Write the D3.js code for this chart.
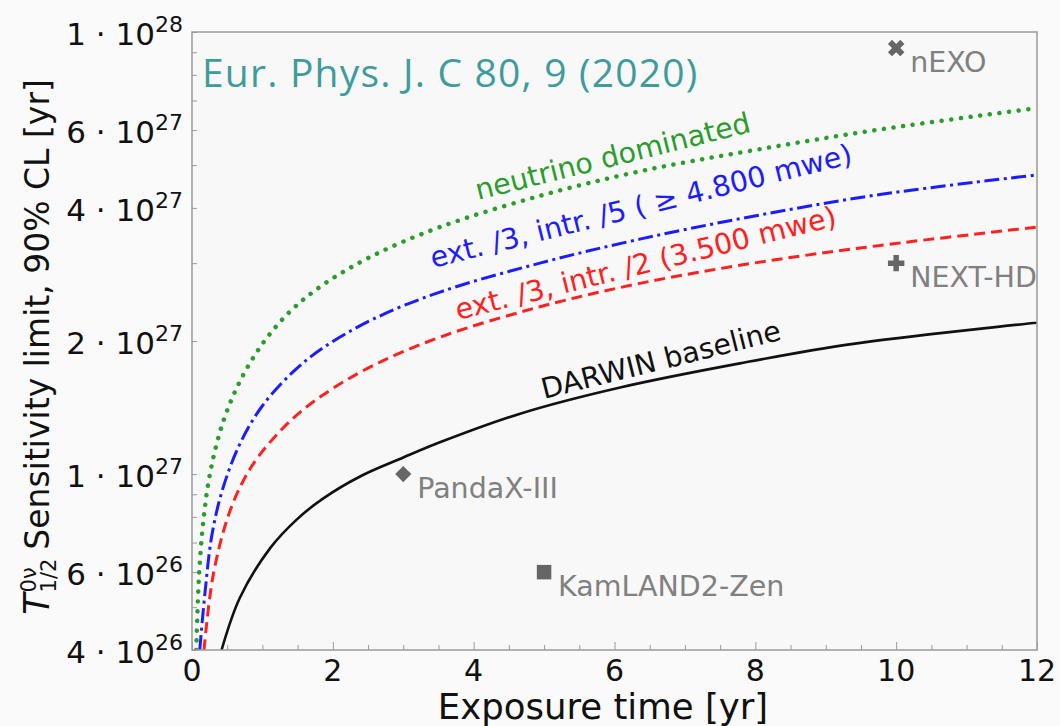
<!DOCTYPE html>
<html>
<head>
<meta charset="utf-8">
<script src="https://cdn.jsdelivr.net/npm/d3@7"></script>
<style>
  body { margin: 0; background: #fafafa; }
  svg { display: block; }
</style>
</head>
<body>
<svg id="chart" width="1060" height="726"></svg>
<script>
// Exposure time [yr] and 90% CL half-life sensitivity [yr] for each scenario
const baselineTime = [0.42, 0.68, 1.11, 1.49, 1.86, 2.4, 3.0, 3.52, 4.66, 6.08, 7.78, 9.39, 12];
const baselineSens = [4.0e26, 5.25e26, 6.8e26, 7.9e26, 8.8e26, 9.9e26, 1.09e27, 1.18e27, 1.37e27, 1.57e27, 1.78e27, 1.97e27, 2.20e27];

const red2Time = [0.17, 0.30, 0.51, 0.72, 0.97, 1.42, 1.86, 2.57, 3.52, 4.94, 6.36, 7.97, 9.77, 12];
const red2Sens = [4.0e26, 5.9e26, 8.0e26, 9.6e26, 1.11e27, 1.33e27, 1.51e27, 1.76e27, 2.04e27, 2.39e27, 2.70e27, 3.00e27, 3.29e27, 3.62e27];

const red5Time = [0.11, 0.185, 0.284, 0.44, 0.68, 0.99, 1.43, 1.86, 2.57, 3.52, 4.94, 6.36, 7.97, 9.77, 12];
const red5Sens = [4.0e26, 5.4e26, 7.3e26, 9.3e26, 1.17e27, 1.42e27, 1.70e27, 1.93e27, 2.24e27, 2.58e27, 3.00e27, 3.40e27, 3.83e27, 4.29e27, 4.75e27];

const nuTime = [0.06, 0.10, 0.16, 0.26, 0.44, 0.68, 1.0, 1.39, 1.86, 2.57, 3.52, 4.94, 6.36, 7.97, 9.77, 12];
const nuSens = [4.0e26, 5.9e26, 7.8e26, 1.01e27, 1.31e27, 1.62e27, 1.97e27, 2.33e27, 2.68e27, 3.12e27, 3.62e27, 4.26e27, 4.84e27, 5.40e27, 6.02e27, 6.73e27];

const curveNames = ["DARWIN baseline", "ext. /3, intr. /2 (3.500 mwe)", "ext. /3, intr. /5 ( \u2265 4.800 mwe)", "neutrino dominated"];

// Other experiments' projected sensitivities
const experiments = ["nEXO", "NEXT-HD", "PandaX-III", "KamLAND2-Zen"];
const expTime = [10, 10, 3, 5];
const expSens = [9.2e27, 3.0e27, 1.0e27, 6.0e26];
const expSymbol = ["x", "plus", "diamond", "square"];

// Axis ticks
const xTicks = [0, 2, 4, 6, 8, 10, 12];
const yTickMantissa = [4, 6, 1, 2, 4, 6, 1];
const yTickExponent = [26, 26, 27, 27, 27, 27, 28];

const W = 1060, H = 726;
const plot = { left: 192, right: 1037, top: 32, bottom: 650 };

const svg = d3.select("#chart");
svg.append("rect").attr("width", W).attr("height", H).attr("fill", "#fafafa");

const x = d3.scaleLinear().domain([0, 12]).range([plot.left, plot.right]);
const y = d3.scaleLog().domain([4e26, 1e28]).range([plot.bottom, plot.top]);

svg.append("rect")
  .attr("x", plot.left).attr("y", plot.top)
  .attr("width", plot.right - plot.left).attr("height", plot.bottom - plot.top)
  .attr("fill", "#f8f8f8");

svg.append("defs").append("clipPath").attr("id", "plotClip")
  .append("rect")
  .attr("x", plot.left).attr("y", plot.top)
  .attr("width", plot.right - plot.left).attr("height", plot.bottom - plot.top);

// Inward ticks on x (major every 2 yr, minor every 0.5 yr)
const tickColor = "#9a9a9a";
const xAxis = d3.axisTop(x).tickValues(d3.range(0, 12.01, 0.5))
  .tickSize(-5).tickFormat("");
const gx = svg.append("g").attr("transform", `translate(0,${plot.bottom})`).call(xAxis);
gx.select(".domain").remove();
gx.selectAll(".tick line").attr("stroke", tickColor).attr("stroke-width", 1)
  .attr("y2", d => (Math.abs(d % 2) < 1e-9 ? 8 : 5)).attr("y1", 0)
  .attr("transform", "scale(1,-1)");

// Inward ticks on y at every 1..9 x 10^n
const yMinor = [];
[26, 27].forEach(e => { for (let m = 1; m <= 9; m++) { const v = m * Math.pow(10, e); if (v >= 4e26 && v <= 1e28) yMinor.push(v); } });
yMinor.push(1e28);
const yAxis = d3.axisRight(y).tickValues(yMinor).tickSize(5).tickFormat("");
const gy = svg.append("g").attr("transform", `translate(${plot.left},0)`).call(yAxis);
gy.select(".domain").remove();
gy.selectAll(".tick line").attr("stroke", tickColor).attr("stroke-width", 1);

// Curves
const line = d3.line().x(d => x(d[0])).y(d => y(d[1])).curve(d3.curveCatmullRom.alpha(0.5));
const curves = svg.append("g").attr("clip-path", "url(#plotClip)");

const series = [
  { t: baselineTime, s: baselineSens, color: "#111111", width: 2.6, dash: null, cap: "butt" },
  { t: red2Time, s: red2Sens, color: "#ff2020", width: 3, dash: "11,6", cap: "butt" },
  { t: red5Time, s: red5Sens, color: "#1c1cff", width: 3, dash: "15,4.5,3,4.5", cap: "butt" },
  { t: nuTime, s: nuSens, color: "#2a9d2a", width: 4.5, dash: "0.1,9.6", cap: "round" }
];
series.forEach(sr => {
  curves.append("path")
    .datum(d3.zip(sr.t, sr.s))
    .attr("d", line)
    .attr("fill", "none")
    .attr("stroke", sr.color)
    .attr("stroke-width", sr.width)
    .attr("stroke-linecap", sr.cap)
    .attr("stroke-dasharray", sr.dash);
});

// Curve labels, written along the curves
const labelFont = "'DejaVu Sans', sans-serif";
const labelPos = [
  { x: 544, y: 399, color: "#111111" },
  { x: 458, y: 320, color: "#ff2020" },
  { x: 433, y: 268, color: "#1c1cff" },
  { x: 478, y: 200, color: "#2a9d2a" }
];
curveNames.forEach((name, i) => {
  const p = labelPos[i];
  svg.append("text")
    .attr("transform", `translate(${p.x},${p.y}) rotate(-14)`)
    .attr("font-family", labelFont)
    .attr("font-size", 28.5)
    .attr("fill", p.color)
    .text(name);
});

// Experiment markers and labels
const markers = svg.append("g").attr("clip-path", "url(#plotClip)");
const symbolOf = {
  x: { type: d3.symbolCross, size: 170, rot: 45 },
  plus: { type: d3.symbolCross, size: 150, rot: 0 },
  diamond: { type: d3.symbolSquare, size: 130, rot: 45 },
  square: { type: d3.symbolSquare, size: 210, rot: 0 }
};
experiments.forEach((name, i) => {
  const cx = x(expTime[i]), cy = y(expSens[i]);
  const sym = symbolOf[expSymbol[i]];
  markers.append("path")
    .attr("d", d3.symbol().type(sym.type).size(sym.size)())
    .attr("transform", `translate(${cx},${cy}) rotate(${sym.rot})`)
    .attr("fill", "#666666");
  markers.append("text")
    .attr("x", cx + 14).attr("y", cy + 24)
    .attr("font-family", labelFont)
    .attr("font-size", 28.5)
    .attr("fill", "#808080")
    .text(name);
});

// Frame
svg.append("rect")
  .attr("x", plot.left).attr("y", plot.top)
  .attr("width", plot.right - plot.left).attr("height", plot.bottom - plot.top)
  .attr("fill", "none").attr("stroke", "#9a9a9a").attr("stroke-width", 1.5);

// Tick labels
const tickFont = "'DejaVu Sans', sans-serif";
xTicks.forEach(v => {
  svg.append("text")
    .attr("x", x(v)).attr("y", 681)
    .attr("text-anchor", "middle")
    .attr("font-family", tickFont).attr("font-size", 30)
    .attr("fill", "#111").text(v);
});
yTickMantissa.forEach((m, i) => {
  const e = yTickExponent[i];
  const t = svg.append("text")
    .attr("x", 183).attr("y", y(m * Math.pow(10, e)) + 13)
    .attr("text-anchor", "end")
    .attr("font-family", tickFont).attr("font-size", 31)
    .attr("fill", "#111");
  t.append("tspan").text(`${m} \u00b7 10`);
  t.append("tspan").attr("dy", -13).attr("font-size", 22).text(e);
});

// Axis titles
svg.append("text")
  .attr("x", 603).attr("y", 719)
  .attr("text-anchor", "middle")
  .attr("font-family", tickFont).attr("font-size", 35.5)
  .attr("fill", "#111").text("Exposure time [yr]");

const yl = svg.append("g").attr("transform", "translate(49,0) rotate(-90)");
const ylInner = yl.append("g").attr("font-family", tickFont).attr("fill", "#111");
const tT = ylInner.append("text").attr("x", 0).attr("y", 0)
  .attr("font-size", 35).attr("font-style", "italic").text("T");
const wT = tT.node().getComputedTextLength();
const sup = ylInner.append("text").attr("x", wT + 1).attr("y", -13)
  .attr("font-size", 21).text("0\u03bd");
const sub = ylInner.append("text").attr("x", wT + 1).attr("y", 7)
  .attr("font-size", 21).text("1/2");
const wSS = Math.max(sup.node().getComputedTextLength(), sub.node().getComputedTextLength());
const main = ylInner.append("text").attr("x", wT + wSS + 10).attr("y", 0)
  .attr("font-size", 33).text("Sensitivity limit, 90% CL [yr]");
const totalLen = wT + wSS + 10 + main.node().getComputedTextLength();
ylInner.attr("transform", `translate(${-347 - totalLen / 2},0)`);

// Reference tag
svg.append("text")
  .attr("x", 202).attr("y", 87)
  .attr("font-family", "'Open Sans', Lato, sans-serif")
  .attr("font-size", 39)
  .attr("letter-spacing", 1.2)
  .attr("fill", "#3f9c9c")
  .text("Eur. Phys. J. C 80, 9 (2020)");
</script>
</body>
</html>
